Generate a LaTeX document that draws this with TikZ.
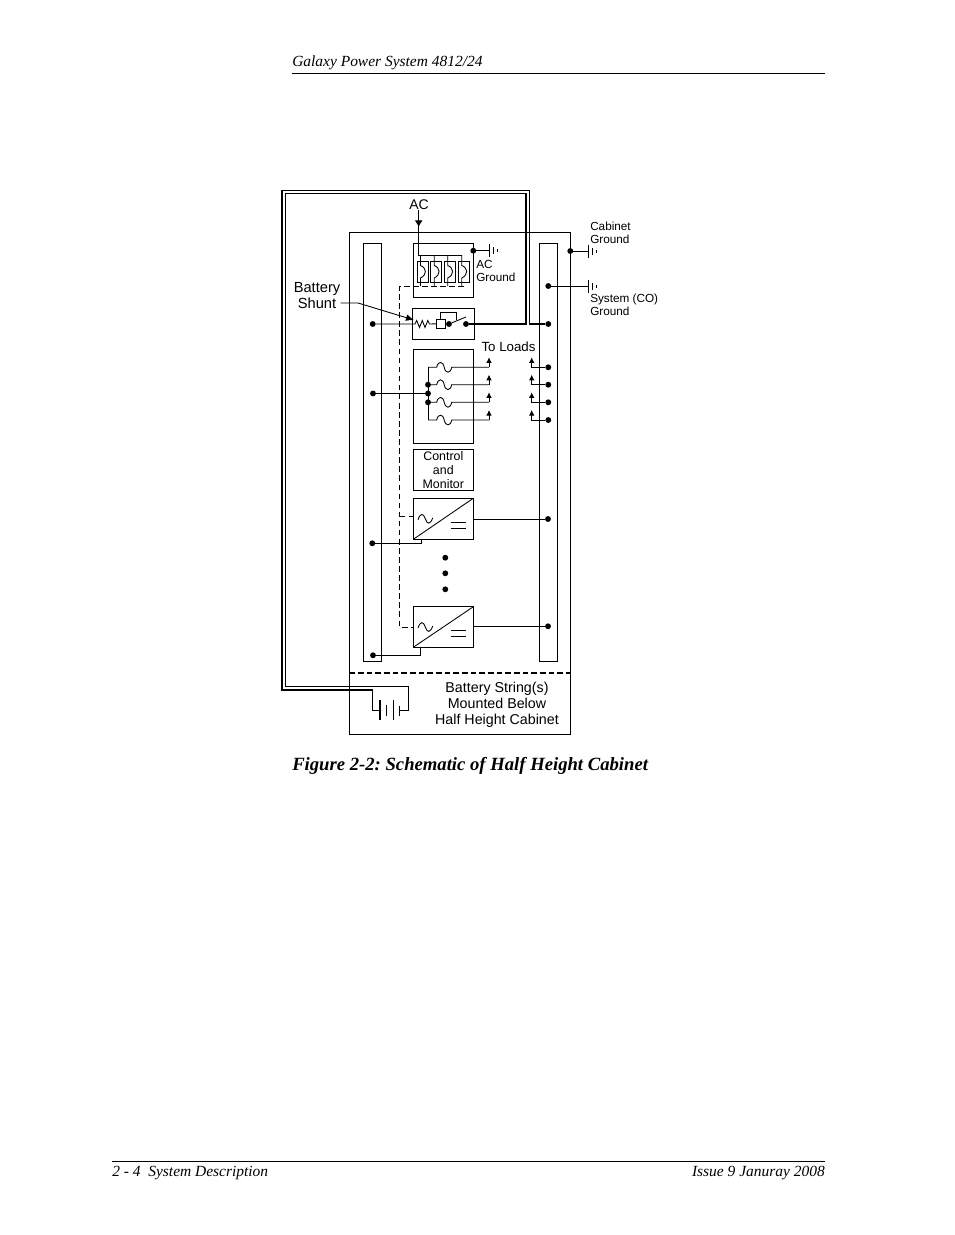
\documentclass[tikz,border=0pt]{standalone}
\usepackage{fontspec}
\setmainfont{Liberation Serif}
\setsansfont{Liberation Sans}
\usetikzlibrary{arrows.meta}
\tikzset{
  box/.style={draw, line width=0.75pt, rectangle, inner sep=0pt, outer sep=0pt},
  dot/.style={circle, fill=black, inner sep=0pt, outer sep=0pt, minimum size=4.4pt},
  wire/.style={line width=0.65pt},
  frameline/.style={line width=1.05pt},
  control/.style={line width=0.65pt, dash pattern=on 4.2pt off 2.6pt},
  small/.style={font=\sffamily\fontsize{8.8}{9.8}\selectfont, align=left, anchor=west, inner sep=0pt},
  medium/.style={font=\sffamily\fontsize{10.7}{12}\selectfont, align=center, inner sep=0pt},
  pagetext/.style={inner sep=0pt, font=\itshape\fontsize{11.6}{13}\selectfont},
  ground/.pic={
    \draw[wire] (0,-6.5) -- (0,6.5);
    \draw[wire] (4,-3.5) -- (4,3.5);
    \draw[wire] (8,-1.5) -- (8,1.5);
  },
  rectifier/.pic={
    \draw[wire] (-25.3,1) .. controls (-23,-6) and (-20,-6) .. (-18,0) .. controls (-16,6) and (-13,6) .. (-10.6,-1);
    \draw[wire] (7.7,3.5) -- (22.7,3.5);
    \draw[wire] (7.7,9.5) -- (22.7,9.5);
  }
}
\begin{document}
\frenchspacing
\begin{tikzpicture}[x=0.75pt, y=-0.75pt, >={Latex[length=4.2pt,width=4.2pt]}]
  \useasboundingbox (0,0) rectangle (954,1235);
  \fill[white] (0,0) rectangle (954,1235);

  % page text
  \node[pagetext, anchor=base west] (header) at (292,66) {Galaxy Power System 4812/24};
  \draw[line width=0.7pt] (292,73) -- (825,73);
  \node[anchor=base west, inner sep=0pt, font=\bfseries\itshape\fontsize{14}{16}\selectfont] (caption) at (292,770.2) {Figure 2-2: Schematic of Half Height Cabinet};
  \draw[line width=0.7pt] (112,1161) -- (825,1161);
  \node[pagetext, anchor=base west] (footl) at (112,1176) {2 - 4\ \ System Description};
  \node[pagetext, anchor=base east] (footr) at (825,1176) {Issue 9 Januray 2008};

  % cabinet and bus bars
  \node[box, minimum width=165.8pt, minimum height=376.5pt] (cabinet) at (459.8,483.5) {};
  \node[box, minimum width=13.8pt, minimum height=313.5pt] (leftbus) at (372.5,452.3) {};
  \node[box, minimum width=13.5pt, minimum height=313.5pt] (rightbus) at (548.3,452.3) {};
  \draw[line width=1.1pt, dash pattern=on 4.2pt off 2.3pt] (cabinet.west |- 0,673) -- (cabinet.east |- 0,673);

  % boxes
  \node[box, minimum width=45pt, minimum height=40.5pt] (acbox) at (443.3,270.3) {};
  \node[box, minimum width=46.5pt, minimum height=23.2pt] (shuntbox) at (443,323.8) {};
  \node[box, minimum width=45pt, minimum height=70.2pt] (fusebox) at (443.3,396.5) {};
  \node[box, minimum width=45pt, minimum height=31pt, font=\sffamily\fontsize{9.3}{10.4}\selectfont, align=center] (monitor) at (443.3,469.7) {Control\\and\\Monitor};
  \node[box, minimum width=45pt, minimum height=30.8pt] (recta) at (443.3,518.8) {};
  \node[box, minimum width=45pt, minimum height=30.4pt] (rectb) at (443.3,627) {};
  \draw[wire] (recta.south west) -- (recta.north east);
  \draw[wire] (rectb.south west) -- (rectb.north east);
  \pic at (443.3,518.8) {rectifier};
  \pic at (443.3,627) {rectifier};

  % breakers and AC feed
  \node[medium, font=\sffamily\fontsize{10.5}{12}\selectfont] (aclabel) at (419,204.5) {AC};
  \coordinate (acbus) at (418.7,255);
  \draw[wire, -{Latex[length=5pt,width=6pt]}] (aclabel.south -| acbus) -- (418.7,227);
  \draw[wire] (418.7,225) -- (acbus) -- (461.8,255);
  \foreach \name/\xpos in {a/422.5, b/436.2, c/449.7, d/463.8} {
    \node[box, line width=0.65pt, minimum width=8.2pt, minimum height=15.8pt] (cb\name) at (\xpos,272.2) {};
    \draw[wire] (\xpos-2,255) -- (\xpos-2,265.5) .. controls (\xpos+4.5,268) and (\xpos+4.5,275) .. (\xpos-2,278) -- (\xpos-2,286);
  }

  % control wiring
  \coordinate (ctla) at (399.6,516);
  \coordinate (ctlb) at (399.6,627);
  \draw[control] (464,286) -- (399.6,286) -- (ctlb) -- (rectb.west);
  \draw[control] (ctla) -- (recta.west |- ctla);

  % grounds
  \node[dot] (acdot) at (473.3,250.7) {};
  \coordinate (acgnd) at (489,250.7);
  \draw[wire] (acdot) -- (acgnd);
  \pic at (acgnd) {ground};
  \node[small] (acgndlabel) at (476,270.5) {AC\\Ground};
  \node[dot] (cabdot) at (570.3,251) {};
  \coordinate (cabgnd) at (588.7,251);
  \draw[wire] (cabdot) -- (cabgnd);
  \pic at (cabgnd) {ground};
  \node[small] (cablabel) at (590,232.5) {Cabinet\\Ground};
  \node[dot] (sysdot) at (548.3,286) {};
  \coordinate (sysgnd) at (588.7,286);
  \draw[wire] (sysdot) -- (sysgnd);
  \pic at (sysgnd) {ground};
  \node[small] (syslabel) at (590,304.5) {System (CO)\\Ground};

  % shunt and contactor
  \node[medium, font=\sffamily\fontsize{11}{12}\selectfont] (shuntlabel) at (317,296) {Battery\\Shunt};
  \coordinate (shuntin) at (414,320);
  \draw[wire, -{Latex[length=6pt,width=5pt]}] (shuntlabel.east |- 0,303) -- (358,303) -- (shuntin);
  \node[dot] (shuntleft) at (372.7,324) {};
  \node[box, line width=0.7pt, minimum width=7.2pt, minimum height=6.8pt] (coil) at (440.8,323.8) {};
  \node[dot] (bladedot) at (449,324) {};
  \node[dot] (shuntout) at (466,324) {};
  \node[dot] (rightfeed) at (548.3,324) {};
  \draw[wire] (shuntleft) -- (415,324) -- (416.7,320.5) -- (419.5,327.5) -- (422.3,320.5) -- (425,327.5) -- (427.8,320.5) -- (429.5,324) -- (coil.west);
  \draw[wire] (coil.east) -- (bladedot);
  \draw[wire] (bladedot) -- (466,317);
  \draw[wire] (coil.north) -- (440.8,312.7) -- (456.7,312.7) -- (456.7,320);

  % battery leads
  \draw[frameline] (shuntout) -- (526,324) -- (526,193.7) -- (285.2,193.7) -- (285.2,686.3) -- (408.3,686.3) -- (408.3,710.7) -- (399.3,710.7);
  \draw[frameline] (rightfeed) -- (529.3,324) -- (529.3,190.5) -- (281.8,190.5) -- (281.8,690) -- (372.3,690) -- (372.3,710.7) -- (380,710.7);
  \draw[line width=1.2pt] (shuntout) -- (526,324);
  \draw[line width=1.1pt] (380,700) -- (380,720);
  \draw[line width=1.1pt] (386.7,705) -- (386.7,716);
  \draw[wire] (393.7,700) -- (393.7,720);
  \draw[wire] (399.3,705.5) -- (399.3,716);
  \node[medium] (batlabel) at (497,705.2) {Battery String(s)\\Mounted Below\\Half Height Cabinet};

  % fuses and loads
  \node[medium, font=\sffamily\fontsize{9.95}{11}\selectfont] (loadlabel) at (508.5,347) {To Loads};
  \draw[wire] (428,367.3) -- (428,420);
  \foreach \name/\ypos in {a/367.3, b/384.7, c/402.3, d/420} {
    \coordinate (tipl\name) at (489,\ypos-10);
    \coordinate (tipr\name) at (531.7,\ypos-10);
    \node[dot] (load\name) at (548.3,\ypos) {};
    \draw[wire] (428,\ypos) -- (436.7,\ypos) .. controls (438,\ypos-6.5) and (443,\ypos-6.5) .. (444.2,\ypos) .. controls (445.5,\ypos+6.5) and (450.5,\ypos+6.5) .. (451.7,\ypos) -- (489,\ypos);
    \draw[wire, ->] (489,\ypos) -- (tipl\name);
    \draw[wire, ->] (load\name) -- (531.7,\ypos) -- (tipr\name);
  }
  \node[dot] (fuseb) at (428,384.7) {};
  \node[dot] (fusec) at (428,402.3) {};
  \node[dot] (fusemid) at (428,393.5) {};
  \node[dot] (fuseleft) at (373,393.5) {};
  \draw[line width=0.8pt] (fuseleft) -- (fusemid);

  % rectifier feeds
  \node[dot] (rectaleft) at (372.3,543.3) {};
  \node[dot] (rectbleft) at (373,655.3) {};
  \node[dot] (rectaright) at (548,519) {};
  \node[dot] (rectbright) at (548,626.3) {};
  \draw[wire] (rectaleft) -- (421,543.3) -- (421,539.3);
  \draw[wire] (rectbleft) -- (420,655.3) -- (420,647.3);
  \draw[wire] (recta.east |- rectaright) -- (rectaright);
  \draw[wire] (rectb.east |- rectbright) -- (rectbright);
  \foreach \name/\ypos in {a/557.7, b/573.3, c/589.3} {
    \node[dot] (more\name) at (445.3,\ypos) {};
  }
\end{tikzpicture}
\end{document}
